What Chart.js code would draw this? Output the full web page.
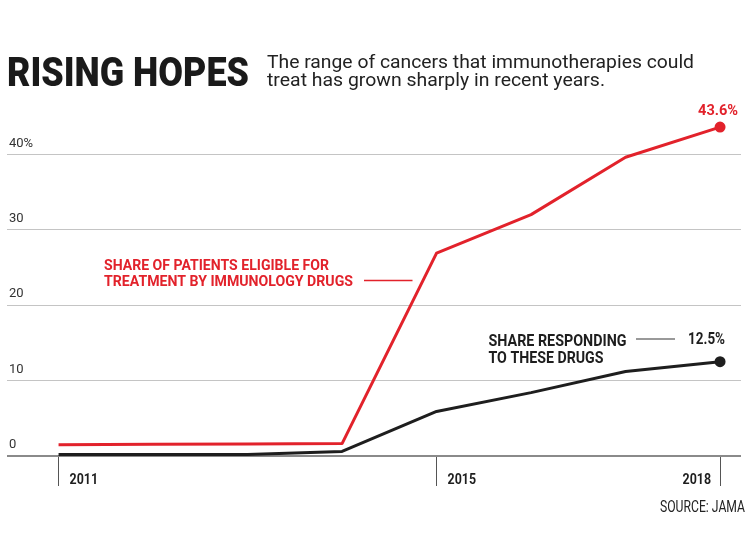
<!DOCTYPE html>
<html>
<head>
<meta charset="utf-8">
<title>Rising hopes</title>
<script src="https://cdn.jsdelivr.net/npm/chart.js@4.4.1/dist/chart.umd.min.js"></script>
<style>
  html, body { margin: 0; padding: 0; background: #fff; }
  canvas { display: block; }
</style>
</head>
<body>
<canvas id="chart" width="750" height="536"></canvas>
<script>
// ---------- data ----------
const years = [2011, 2012, 2013, 2014, 2015, 2016, 2017, 2018];
const eligibleShare = [1.5, 1.55, 1.6, 1.65, 26.9, 32.0, 39.6, 43.6];
const respondingShare = [0.2, 0.2, 0.2, 0.6, 5.9, 8.4, 11.2, 12.5];
const yTickValues = [0, 10, 20, 30, 40];
const xTickYears = [2011, 2015, 2018];

const RED = "#e2222b";
const INK = "#1e1e1e";
const FONT = "Roboto, 'Noto Sans', sans-serif";

// ---------- helper: draw text squeezed to a given width ----------
function fitText(ctx, text, x, y, font, color, width, align) {
  ctx.save();
  ctx.font = font;
  ctx.fillStyle = color;
  ctx.textBaseline = "alphabetic";
  ctx.textAlign = "left";
  const w = ctx.measureText(text).width;
  const sx = width / w;
  let left = x;
  if (align === "right") left = x - width;
  if (align === "center") left = x - width / 2;
  ctx.translate(left, y);
  ctx.scale(sx, 1);
  ctx.fillText(text, 0, 0);
  ctx.restore();
}

function line(ctx, x1, y1, x2, y2, color, width) {
  ctx.save();
  ctx.strokeStyle = color;
  ctx.lineWidth = width;
  ctx.beginPath();
  ctx.moveTo(x1, y1);
  ctx.lineTo(x2, y2);
  ctx.stroke();
  ctx.restore();
}

// ---------- annotations, titles, year labels ----------
const textPlugin = {
  id: "textPlugin",
  afterDraw(chart) {
    const ctx = chart.ctx;
    const xs = chart.scales.x;
    const ys = chart.scales.y;

    // headline + deck
    fitText(ctx, "RISING HOPES", 7, 86, `900 41px ${FONT}`, "#1a1a1a", 242);
    fitText(ctx, "The range of cancers that immunotherapies could", 267, 68,
      `400 18px ${FONT}`, "#222", 427);
    fitText(ctx, "treat has grown sharply in recent years.", 267, 86,
      `400 18px ${FONT}`, "#222", 338);

    // year labels beside the tick marks
    const zeroY = ys.getPixelForValue(0);
    xTickYears.forEach((yr, i) => {
      const px = xs.getPixelForValue(yr);
      const last = i === xTickYears.length - 1;
      fitText(ctx, String(yr), last ? px - 9 : px + 11, zeroY + 28,
        `700 15px ${FONT}`, INK, 28.5, last ? "right" : "left");
    });

    // end values
    const lastYear = years[years.length - 1];
    const endX = xs.getPixelForValue(lastYear);
    fitText(ctx, eligibleShare[eligibleShare.length - 1].toFixed(1) + "%",
      endX - 2, ys.getPixelForValue(eligibleShare[eligibleShare.length - 1]) - 12,
      `700 15px ${FONT}`, RED, 40, "center");
    fitText(ctx, respondingShare[respondingShare.length - 1].toFixed(1) + "%",
      endX - 32, ys.getPixelForValue(respondingShare[respondingShare.length - 1]) - 18,
      `700 16px ${FONT}`, INK, 37);

    // series labels
    fitText(ctx, "SHARE OF PATIENTS ELIGIBLE FOR", 104, 269.5, `700 15.5px ${FONT}`, RED, 225);
    fitText(ctx, "TREATMENT BY IMMUNOLOGY DRUGS", 104, 286, `700 15.5px ${FONT}`, RED, 249);
    line(ctx, 364, 280.5, 412.5, 280.5, RED, 1.3);

    fitText(ctx, "SHARE RESPONDING", 488.5, 345.5, `700 16px ${FONT}`, INK, 138);
    fitText(ctx, "TO THESE DRUGS", 488.5, 362.5, `700 16px ${FONT}`, INK, 115);
    line(ctx, 636, 339, 675, 339, "#777", 1.5);

    // source
    fitText(ctx, "SOURCE: JAMA", 745, 511.5, `400 16px ${FONT}`, "#222", 85, "right");
  }
};

const lastIdx = years.length - 1;
const toPoints = (vals) => vals.map((v, i) => ({ x: years[i], y: v }));

new Chart(document.getElementById("chart").getContext("2d"), {
  type: "line",
  data: {
    datasets: [
      {
        label: "Share of patients eligible",
        data: toPoints(eligibleShare),
        borderColor: RED,
        backgroundColor: RED,
        borderWidth: 3,
        borderJoinStyle: "round",
        pointRadius: (c) => (c.dataIndex === lastIdx ? 4 : 0),
        pointHoverRadius: 0,
        tension: 0,
        clip: false
      },
      {
        label: "Share responding",
        data: toPoints(respondingShare),
        borderColor: INK,
        backgroundColor: INK,
        borderWidth: 3,
        borderJoinStyle: "round",
        pointRadius: (c) => (c.dataIndex === lastIdx ? 4 : 0),
        pointHoverRadius: 0,
        tension: 0,
        clip: false
      }
    ]
  },
  options: {
    responsive: false,
    animation: false,
    events: [],
    layout: { padding: { left: 5, right: 9, top: 109, bottom: 0 } },
    plugins: {
      legend: { display: false },
      tooltip: { enabled: false }
    },
    scales: {
      x: {
        type: "linear",
        min: 2010.4544,
        max: 2018.2216,
        afterBuildTicks: (s) => { s.ticks = xTickYears.map((v) => ({ value: v })); },
        afterFit: (s) => { s.height = 80; },
        border: { display: false },
        grid: {
          drawOnChartArea: false,
          drawTicks: true,
          tickLength: 30,
          color: "#555",
          lineWidth: 1
        },
        ticks: { display: false }
      },
      y: {
        min: 0,
        max: 46,
        afterBuildTicks: (s) => { s.ticks = yTickValues.map((v) => ({ value: v })); },
        afterFit: (s) => { s.width = 0; },
        border: { display: false },
        grid: {
          drawTicks: false,
          color: (c) => (c.tick && c.tick.value === 0 ? "#8a8a8a" : "#c4c4c4"),
          lineWidth: (c) => (c.tick && c.tick.value === 0 ? 2 : 1)
        },
        ticks: {
          mirror: true,
          padding: 2,
          labelOffset: -11,
          color: "#333",
          font: { family: "Roboto", size: 13 },
          callback: (v) => (v === 40 ? v + "%" : String(v))
        }
      }
    }
  },
  plugins: [textPlugin]
});
</script>
</body>
</html>
